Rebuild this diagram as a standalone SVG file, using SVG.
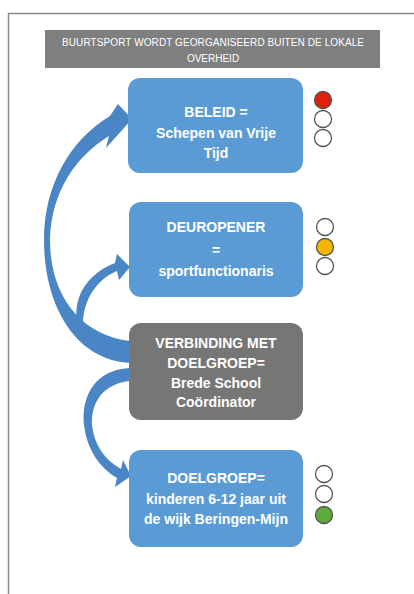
<svg xmlns="http://www.w3.org/2000/svg" width="414" height="594" viewBox="0 0 414 594">
<style>
.box{fill:#5B9BD5}
.gbox{fill:#767676}
.t{font-family:"Liberation Sans",Arial,sans-serif;font-weight:bold;font-size:14px;fill:#ffffff;text-anchor:middle}
.h{font-family:"Liberation Sans",Arial,sans-serif;font-size:10px;fill:#ffffff;text-anchor:middle}
.arr{fill:#4A86C6}
.lt{stroke:#555555;stroke-width:1.3;fill:#ffffff}
</style>
<rect width="414" height="594" fill="#ffffff"/>
<path d="M8.5,594 V13.5 H414" fill="none" stroke="#8a8a8a" stroke-width="1.5"/>
<g id="header">
<rect x="45" y="30" width="335" height="38" fill="#7f7f7f"/>
<text class="h" x="213" y="46" textLength="302" lengthAdjust="spacing">BUURTSPORT WORDT GEORGANISEERD BUITEN DE LOKALE</text>
<text class="h" x="213" y="62">OVERHEID</text>
</g>
<g id="connectors">
<path class="arr" d="M130,341 C80,335 50,295 50,240 C51,192 76,156 109,136 L106,148 L132,119 L118,104 L110,116 C70,140 44,185 44,240 C44,305 75,360 130,363 Z"/>
<path class="arr" d="M77,322 C73,295 89,273 115,263 L117,254 L130,267 L119,280 L117,271 C97,279 83,300 83,324 Z"/>
<path class="arr" d="M129,368 C96,370 81,395 84,425 C87,450 100,468 117,478 L115,487 L131,476 L123,460 L121,469 C105,460 94,445 92,425 C91,400 105,384 129,381 Z"/>
</g>
<g id="beleid">
<rect class="box" x="128" y="78" width="175" height="95" rx="12"/>
<text class="t" x="216" y="117">BELEID =</text>
<text class="t" x="216" y="138">Schepen van Vrije</text>
<text class="t" x="216" y="158">Tijd</text>
</g>
<g id="light1">
<circle cx="323" cy="100" r="8.5" class="lt" style="fill:#E0200F"/>
<circle cx="323" cy="119" r="8.5" class="lt"/>
<circle cx="323" cy="138" r="8.5" class="lt"/>
</g>
<g id="deuropener">
<rect class="box" x="129" y="202" width="174" height="95" rx="12"/>
<text class="t" x="216" y="232">DEUROPENER</text>
<text class="t" x="216" y="255">=</text>
<text class="t" x="216" y="276">sportfunctionaris</text>
</g>
<g id="light2">
<circle cx="325" cy="227" r="8.5" class="lt"/>
<circle cx="325" cy="247" r="8.5" class="lt" style="fill:#F4B400"/>
<circle cx="325" cy="266" r="8.5" class="lt"/>
</g>
<g id="verbinding">
<rect class="gbox" x="129" y="323" width="174" height="97" rx="12"/>
<text class="t" x="216" y="348">VERBINDING MET</text>
<text class="t" x="216" y="368">DOELGROEP=</text>
<text class="t" x="216" y="388">Brede School</text>
<text class="t" x="216" y="407">Coördinator</text>
</g>
<g id="doelgroep">
<rect class="box" x="129" y="450" width="174" height="97" rx="12"/>
<text class="t" x="216" y="483">DOELGROEP=</text>
<text class="t" x="216" y="504">kinderen 6-12 jaar uit</text>
<text class="t" x="216" y="524">de wijk Beringen-Mijn</text>
</g>
<g id="light4">
<circle cx="324" cy="474" r="8.5" class="lt"/>
<circle cx="324" cy="494" r="8.5" class="lt"/>
<circle cx="324" cy="515" r="8.5" class="lt" style="fill:#5DAA3A"/>
</g>
</svg>
